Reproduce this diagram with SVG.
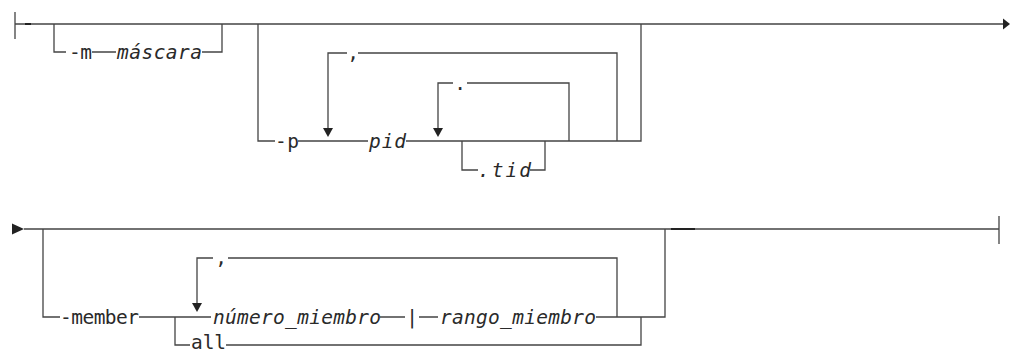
<svg xmlns="http://www.w3.org/2000/svg" width="1010" height="354" viewBox="0 0 1010 354">
<style>
.ln{stroke:#444;stroke-width:1.3;fill:none;stroke-linecap:butt}
.dk{stroke:#222;stroke-width:2;fill:none}
.ar{fill:#222;stroke:none}
text{font-family:"DejaVu Sans Mono","Liberation Mono",monospace;font-size:19.5px;fill:#2a2a2a}
.v{font-style:italic}
</style>
<rect width="1010" height="354" fill="#fff"/>
<g id="connectors">
  <path class="ln" d="M15 12V39M15 24H1004"/>
  <path class="dk" d="M25 24H31"/>
  <polygon class="ar" points="1003,18.5 1010,24 1003,29.5"/>
  <path class="ln" d="M54 24V52H66M92 52H116M202 52H222V24"/>
  <path class="ln" d="M258 24V141H275M298 141H368M406 141H641V24"/>
  <path class="ln" d="M328 128V53H347M358 53H617V141"/>
  <polygon class="ar" points="323,128 333,128 328,137"/>
  <path class="ln" d="M438 128V83H453M467 83H569V141"/>
  <polygon class="ar" points="433,128 443,128 438,137"/>
  <path class="ln" d="M462 141V170H478M530 170H545V141"/>
  <polygon class="ar" points="12,223.5 24,229 12,234.5"/>
  <path class="ln" d="M24 229H999M999 216V244"/>
  <path class="dk" d="M671 229H695"/>
  <path class="ln" d="M43 229V317H60M139 317H211M380 317H405M419 317H438M596 317H665V229"/>
  <path class="ln" d="M175 317V345H190M226 345H641V317"/>
  <path class="ln" d="M197 303V258H213M228 258H617V317"/>
  <polygon class="ar" points="192,303 202,303 197,312"/>
</g>
<g id="node-m"><text x="69" y="59" textLength="23" lengthAdjust="spacing">-m</text></g>
<g id="node-mascara"><text class="v" x="117" y="59" textLength="85" lengthAdjust="spacing">máscara</text></g>
<g id="node-p"><text x="275" y="148" textLength="24" lengthAdjust="spacing">-p</text></g>
<g id="node-pid"><text class="v" x="369" y="148" textLength="37" lengthAdjust="spacing">pid</text></g>
<g id="node-comma1"><text x="353" y="59" text-anchor="middle">,</text></g>
<g id="node-dot"><text x="460" y="90" text-anchor="middle">.</text></g>
<g id="node-tid"><text class="v" x="478" y="177" textLength="53" lengthAdjust="spacing">.tid</text></g>
<g id="node-member"><text x="60" y="324" textLength="79" lengthAdjust="spacing">-member</text></g>
<g id="node-comma2"><text x="221" y="264" text-anchor="middle">,</text></g>
<g id="node-numero"><text class="v" x="213" y="324" textLength="168" lengthAdjust="spacing">número_miembro</text></g>
<g id="node-bar"><text x="412" y="324" text-anchor="middle">|</text></g>
<g id="node-rango"><text class="v" x="440" y="324" textLength="156" lengthAdjust="spacing">rango_miembro</text></g>
<g id="node-all"><text x="191" y="349" textLength="35" lengthAdjust="spacing">all</text></g>
</svg>
